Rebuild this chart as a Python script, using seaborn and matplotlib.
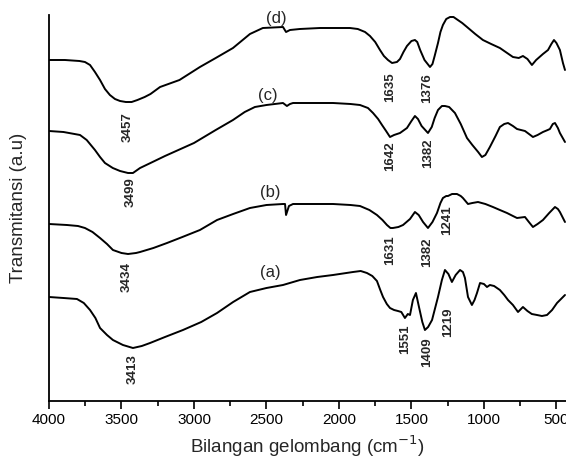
import numpy as np
import pandas as pd
import matplotlib
matplotlib.use("Agg")
import matplotlib.pyplot as plt
import seaborn as sns

# ---------------- data (wavenumber cm^-1, transmittance a.u., already stacked) -------------
wn_d = [4000, 3890, 3790, 3752, 3717, 3683, 3648, 3614, 3580, 3545,
        3510, 3470, 3430, 3390, 3340, 3300, 3234, 3100, 2959, 2850,
        2731, 2614, 2525, 2386, 2365, 2338, 2270, 2131, 1924, 1870,
        1820, 1786, 1750, 1717, 1690, 1662, 1634, 1600, 1579, 1555,
        1531, 1500, 1476, 1460, 1440, 1410, 1372, 1355, 1340, 1317,
        1300, 1283, 1260, 1234, 1210, 1180, 1150, 1117, 1060, 1007,
        950, 890, 840, 800, 760, 731, 700, 669, 640, 593,
        558, 535, 517, 500, 476, 455, 441]
t_d = [341, 341, 340, 339, 336, 329, 321, 312, 306, 302,
       300, 299, 299, 301, 304, 307, 314, 321, 334, 343,
       353, 367, 373, 374, 369, 371, 372, 373, 373, 372,
       369, 365, 359, 351, 345, 341, 338, 339, 342, 349,
       355, 360, 361, 359, 351, 341, 334, 337, 345, 358,
       369, 376, 382, 384, 384, 381, 378, 374, 367, 361,
       357, 353, 348, 344, 343, 345, 342, 336, 341, 347,
       351, 357, 361, 358, 351, 338, 331]

wn_c = [4000, 3900, 3786, 3740, 3683, 3648, 3614, 3560, 3510, 3455,
        3421, 3372, 3300, 3200, 3000, 2850, 2731, 2650, 2580, 2500,
        2386, 2359, 2338, 2317, 2041, 1920, 1855, 1800, 1765, 1730,
        1703, 1675, 1648, 1620, 1579, 1531, 1500, 1476, 1455, 1430,
        1386, 1360, 1340, 1317, 1290, 1269, 1240, 1200, 1160, 1117,
        1080, 1040, 1014, 990, 959, 920, 890, 860, 834, 800,
        772, 717, 680, 662, 630, 593, 560, 545, 525, 510,
        490, 476, 441]
t_c = [270, 269, 266, 261, 251, 244, 238, 233, 230, 228,
       228, 233, 238, 245, 258, 271, 281, 289, 294, 296,
       298, 295, 297, 298, 298, 297, 296, 293, 288, 282,
       276, 270, 264, 266, 268, 273, 280, 285, 282, 275,
       268, 274, 283, 291, 295, 295, 294, 288, 277, 263,
       256, 249, 244, 246, 254, 265, 274, 277, 278, 275,
       272, 270, 266, 264, 266, 269, 271, 272, 277, 278,
       273, 268, 259]

wn_b = [4000, 3876, 3800, 3752, 3700, 3648, 3600, 3559, 3500, 3455,
        3400, 3372, 3280, 3186, 3080, 2959, 2841, 2730, 2614, 2500,
        2386, 2372, 2365, 2345, 2317, 2041, 1920, 1855, 1790, 1738,
        1700, 1669, 1645, 1628, 1590, 1558, 1510, 1476, 1450, 1420,
        1386, 1355, 1324, 1300, 1283, 1260, 1248, 1220, 1186, 1160,
        1145, 1110, 1080, 1041, 990, 938, 890, 841, 800, 772,
        717, 690, 662, 630, 593, 550, 510, 490, 476, 441]
t_b = [177, 176, 175, 173, 169, 163, 157, 151, 148, 147,
       148, 149, 153, 158, 164, 171, 181, 187, 193, 196,
       197, 197, 186, 195, 197, 197, 196, 195, 191, 186,
       181, 176, 173, 173, 174, 176, 182, 189, 186, 179,
       173, 179, 188, 198, 203, 205, 205, 207, 207, 205,
       203, 197, 198, 199, 197, 194, 191, 188, 185, 183,
       184, 179, 174, 177, 181, 188, 194, 192, 189, 179]

wn_a = [4000, 3900, 3807, 3760, 3717, 3680, 3648, 3600, 3559, 3490,
        3421, 3360, 3303, 3200, 3076, 2950, 2841, 2730, 2614, 2500,
        2386, 2269, 2150, 2041, 1903, 1850, 1807, 1770, 1738, 1715,
        1696, 1670, 1648, 1620, 1593, 1570, 1545, 1525, 1510, 1490,
        1469, 1448, 1425, 1407, 1385, 1358, 1317, 1290, 1269, 1245,
        1221, 1195, 1165, 1145, 1131, 1110, 1083, 1065, 1048, 1027,
        1000, 979, 959, 930, 890, 860, 834, 800, 765, 731,
        700, 670, 634, 600, 565, 530, 496, 441]
t_a = [104, 103, 102, 98, 91, 83, 73, 66, 61, 56,
       53, 55, 58, 64, 71, 79, 88, 99, 109, 113,
       116, 121, 124, 126, 129, 130, 128, 125, 120, 111,
       104, 97, 93, 91, 90, 89, 83, 87, 86, 101,
       108, 94, 79, 71, 74, 81, 104, 121, 131, 127,
       119, 126, 131, 129, 123, 104, 96, 101, 108, 118,
       117, 114, 116, 115, 111, 106, 101, 96, 89, 94,
       90, 87, 86, 85, 86, 91, 98, 106]

series_names = ["(a)", "(b)", "(c)", "(d)"]
peaks_a = ["3413", "1551", "1409", "1219"]
peaks_b = ["3434", "1631", "1382", "1241"]
peaks_c = ["3499", "1642", "1382"]
peaks_d = ["3457", "1635", "1376"]

xticks = [4000, 3500, 3000, 2500, 2000, 1500, 1000, 500]

# ---------------- build long table ----------------
frames = []
for name, w, t in zip(series_names, [wn_a, wn_b, wn_c, wn_d], [t_a, t_b, t_c, t_d]):
    frames.append(pd.DataFrame({"wn": w, "T": t, "s": name}))
df = pd.concat(frames, ignore_index=True)

sns.set_theme(style="ticks")
plt.rcParams["font.family"] = ["Liberation Sans", "DejaVu Sans"]

fig = plt.figure(figsize=(5.66, 4.65), dpi=100)
ax = fig.add_axes([49 / 566, 1 - 401 / 465, 1 - 49 / 566, (401 - 15) / 465])

sns.lineplot(data=df, x="wn", y="T", units="s", estimator=None, sort=False,
             color="black", linewidth=1.4, ax=ax)
for ln in ax.lines:
    ln.set_solid_joinstyle("round")

ax.set_xlim(4000, 434)
ax.set_ylim(0, 386)
ax.set_xticks(xticks)
ax.set_xticks(np.arange(3750, 400, -500), minor=True)
ax.set_xticklabels([str(v) for v in xticks], fontsize=11)
ax.tick_params(axis="x", which="major", direction="out", length=6, width=1.2, pad=3, colors="black")
ax.tick_params(axis="x", which="minor", direction="out", length=3.5, width=1.2, colors="black")
ax.set_yticks([])
sns.despine(ax=ax, top=True, right=True)
for sp in ["left", "bottom"]:
    ax.spines[sp].set_linewidth(1.3)
    ax.spines[sp].set_color("black")

ax.set_xlabel("Bilangan gelombang (cm$^{-1}$)", fontsize=13.5, labelpad=4)
ax.set_ylabel("Transmitansi (a.u)", fontsize=13.5, labelpad=16)

# series labels
label_pos = {"(d)": (2434, 383), "(c)": (2490, 306), "(b)": (2476, 209), "(a)": (2476, 128)}
for name in series_names:
    x, y = label_pos[name]
    ax.text(x, y, name, fontsize=12, ha="center", va="center", clip_on=False)

# peak labels (rotated)
peak_pos = {
    "d": [(3455, 274), (1648, 314), (1393, 313)],
    "c": [(3434, 209), (1648, 245), (1386, 248)],
    "b": [(3462, 124), (1648, 151), (1393, 149), (1255, 181)],
    "a": [(3421, 32), (1545, 62), (1393, 49), (1248, 79)],
}
for key, labels in zip(["a", "b", "c", "d"], [peaks_a, peaks_b, peaks_c, peaks_d]):
    for txt, (x, y) in zip(labels, peak_pos[key]):
        ax.text(x, y, txt, rotation=90, fontsize=9.5, fontweight="bold",
                ha="center", va="center")

fig.savefig("out.png", dpi=100)
